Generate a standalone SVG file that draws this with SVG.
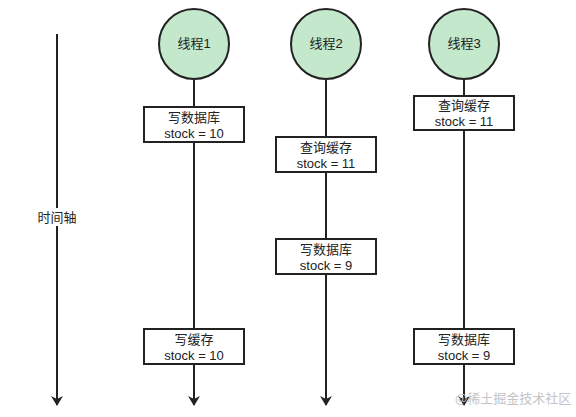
<svg xmlns="http://www.w3.org/2000/svg" width="576" height="417" viewBox="0 0 576 417">
<defs>
<marker id="arr" viewBox="0 0 10 12" refX="9" refY="6" markerWidth="10" markerHeight="12" markerUnits="userSpaceOnUse" orient="auto">
<path d="M0,0 L10,6 L0,12 L3,6 Z" fill="#222"/>
</marker>
<style>
.ln{stroke:#222;stroke-width:2;fill:none}
.c{fill:#c3e8cb;stroke:#222;stroke-width:2}
.b{fill:#fff;stroke:#222;stroke-width:2}
.t{font-family:"Liberation Sans","Noto Sans CJK SC",sans-serif;font-size:13px;fill:#222;text-anchor:middle}
.wm{font-family:"Noto Sans CJK SC",sans-serif;font-size:13px;fill:#c4c4c4}
</style>
</defs>
<rect width="576" height="417" fill="#fff"/>
<g id="connectors">
<line class="ln" x1="57" y1="34" x2="57" y2="405" marker-end="url(#arr)"/>
<line class="ln" x1="194" y1="79" x2="194" y2="405" marker-end="url(#arr)"/>
<line class="ln" x1="326" y1="79" x2="326" y2="405" marker-end="url(#arr)"/>
<line class="ln" x1="464" y1="79" x2="464" y2="405" marker-end="url(#arr)"/>
</g>
<g id="axis-label">
<rect x="36" y="208" width="42" height="18" fill="#fff"/>
<text class="t" x="57" y="222">时间轴</text>
</g>
<g id="thread1">
<circle class="c" cx="194" cy="44" r="35"/>
<text class="t" x="194" y="48">线程1</text>
</g>
<g id="thread2">
<circle class="c" cx="326" cy="44" r="35"/>
<text class="t" x="326" y="48">线程2</text>
</g>
<g id="thread3">
<circle class="c" cx="464" cy="44" r="35"/>
<text class="t" x="464" y="48">线程3</text>
</g>
<g id="t1-write-db">
<rect class="b" x="144" y="107" width="100" height="35"/>
<text class="t" x="194" y="122">写数据库</text>
<text class="t" x="194" y="138">stock = 10</text>
</g>
<g id="t1-write-cache">
<rect class="b" x="144" y="329" width="100" height="35"/>
<text class="t" x="194" y="344">写缓存</text>
<text class="t" x="194" y="360">stock = 10</text>
</g>
<g id="t2-query-cache">
<rect class="b" x="276" y="137" width="100" height="35"/>
<text class="t" x="326" y="152">查询缓存</text>
<text class="t" x="326" y="168">stock = 11</text>
</g>
<g id="t2-write-db">
<rect class="b" x="276" y="239" width="100" height="35"/>
<text class="t" x="326" y="254">写数据库</text>
<text class="t" x="326" y="270">stock = 9</text>
</g>
<g id="t3-query-cache">
<rect class="b" x="414" y="96" width="100" height="34"/>
<text class="t" x="464" y="110">查询缓存</text>
<text class="t" x="464" y="126">stock = 11</text>
</g>
<g id="t3-write-db">
<rect class="b" x="414" y="329" width="100" height="35"/>
<text class="t" x="464" y="344">写数据库</text>
<text class="t" x="464" y="360">stock = 9</text>
</g>
<text class="wm" x="455" y="403">@稀土掘金技术社区</text>
</svg>
